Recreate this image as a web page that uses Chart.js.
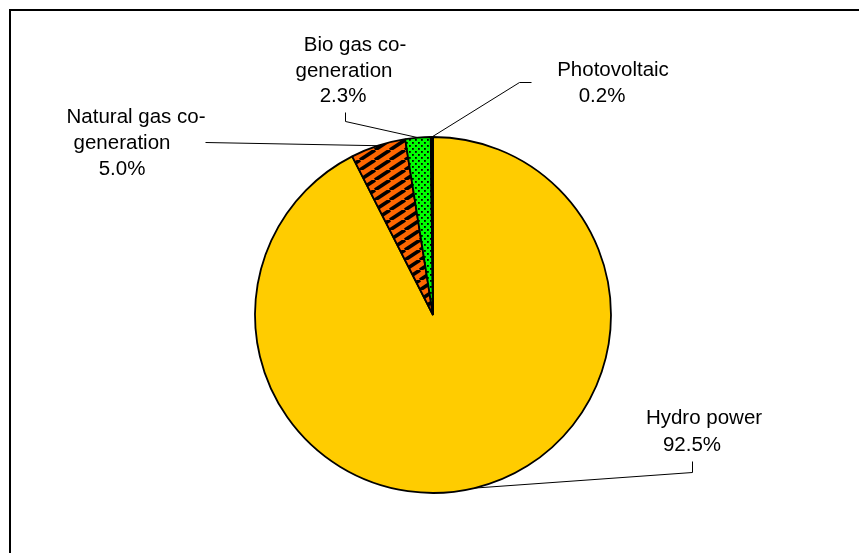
<!DOCTYPE html>
<html>
<head>
<meta charset="utf-8">
<script src="https://cdn.jsdelivr.net/npm/chart.js@4"></script>
<style>
    body { margin: 0; background: #fff; }
    canvas { display: block; }
</style>
</head>
<body>
<canvas id="pieChart" width="859" height="553"></canvas>
<script>
// chart data
const categories = ["Hydro power", "Natural gas co-generation", "Bio gas co-generation", "Photovoltaic"];
const shares = [92.5, 5.0, 2.3, 0.2];
const nameLines = [
    ["Hydro power"],
    ["Natural gas co-", "generation"],
    ["Bio gas co-", "generation"],
    ["Photovoltaic"]
];

// label text placement + leader line elbows (layout only)
const labelLayout = [
    { lines: [[704, 424], [692, 451]], elbow: [[692, 472], [692, 461]] },
    { lines: [[136, 123], [122, 149], [122, 175]], elbow: [[205, 142]] },
    { lines: [[355, 51], [344, 77], [343, 102]], elbow: [[345, 121], [345, 112]] },
    { lines: [[613, 76], [602, 102]], elbow: [[519, 82], [531, 82]] }
];

function makeStripes() {
    const w = 15, h = 10;
    const c = document.createElement("canvas");
    c.width = w; c.height = h;
    const g = c.getContext("2d");
    g.fillStyle = "#FF6600";
    g.fillRect(0, 0, w, h);
    g.strokeStyle = "#000";
    g.lineWidth = 3.6;
    for (let k = -1; k <= 1; k++) {
        g.beginPath();
        g.moveTo(k * w, h);
        g.lineTo(k * w + w, 0);
        g.stroke();
    }
    return g.createPattern(c, "repeat");
}

function makeDots() {
    const s = 6;
    const c = document.createElement("canvas");
    c.width = s; c.height = s;
    const g = c.getContext("2d");
    g.fillStyle = "#00FF00";
    g.fillRect(0, 0, s, s);
    g.fillStyle = "#000";
    g.fillRect(1, 1, 1.8, 1.8);
    g.fillRect(4, 4, 1.8, 1.8);
    return g.createPattern(c, "repeat");
}

const frameAndLabels = {
    id: "frameAndLabels",
    afterDraw(chart) {
        const ctx = chart.ctx;
        ctx.save();

        // outer frame (runs off right/bottom)
        ctx.strokeStyle = "#000";
        ctx.lineWidth = 2;
        ctx.strokeRect(10, 10, 900, 600);

        const arcs = chart.getDatasetMeta(0).data;
        ctx.font = '20.5px "Liberation Sans", Arial, sans-serif';
        ctx.fillStyle = "#000";
        ctx.textAlign = "center";
        ctx.textBaseline = "alphabetic";

        arcs.forEach((arc, i) => {
            const mid = (arc.startAngle + arc.endAngle) / 2;
            const px = arc.x + arc.outerRadius * Math.cos(mid);
            const py = arc.y + arc.outerRadius * Math.sin(mid);
            const lay = labelLayout[i];

            ctx.strokeStyle = "#000";
            ctx.lineWidth = 1;
            ctx.beginPath();
            ctx.moveTo(px, py);
            lay.elbow.forEach(p => ctx.lineTo(p[0] + 0.5, p[1] + 0.5));
            ctx.stroke();

            const texts = nameLines[i].concat([shares[i].toFixed(1) + "%"]);
            texts.forEach((t, j) => {
                ctx.fillText(t, lay.lines[j][0], lay.lines[j][1]);
            });
        });

        ctx.restore();
    }
};

const ctx = document.getElementById("pieChart").getContext("2d");

new Chart(ctx, {
    type: "pie",
    data: {
        labels: categories,
        datasets: [{
            data: shares,
            backgroundColor: ["#FFCC00", makeStripes(), makeDots(), "#000000"],
            borderColor: "#000",
            borderWidth: 1.8
        }]
    },
    options: {
        responsive: false,
        animation: false,
        devicePixelRatio: 1,
        radius: 178,
        layout: { padding: { left: 7, right: 0, top: 77, bottom: 0 } },
        plugins: {
            legend: { display: false },
            tooltip: { enabled: false }
        }
    },
    plugins: [frameAndLabels]
});
</script>
</body>
</html>
